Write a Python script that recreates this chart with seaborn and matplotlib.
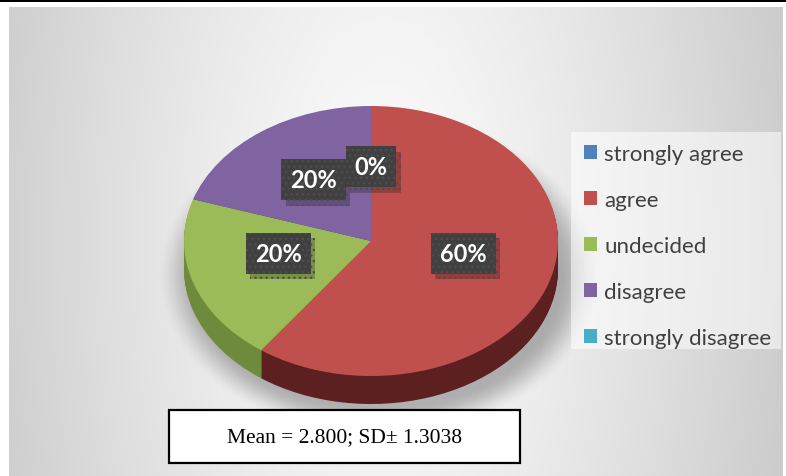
import numpy as np
import matplotlib
matplotlib.use("Agg")
import matplotlib.pyplot as plt
import seaborn as sns
from matplotlib.patches import Rectangle
from matplotlib import patheffects

# Survey responses (percent of respondents)
categories = ["strongly agree", "agree", "undecided", "disagree", "strongly disagree"]
shares = [0, 60, 20, 20, 0]
top_colors = ["#4F81BD", "#C0504D", "#9BBB59", "#8064A2", "#4BACC6"]
side_colors = ["#2c4a6e", "#5c2020", "#6e8a3b", "#4f3a6a", "#2a6e80"]
summary_text = "Mean = 2.800; SD\u00b1 1.3038"

sns.set_theme(style="white")
plt.rcParams["font.family"] = ["Lato", "DejaVu Sans"]

W, H = 786, 477
fig = plt.figure(figsize=(W / 100, H / 100), dpi=100)
fig.patch.set_facecolor("white")

# ---- background layer in pixel coordinates ----
ax_bg = fig.add_axes([0, 0, 1, 1])
ax_bg.axis("off")

x0, x1, y0, y1 = 9, 783, 8, 477
xx, yy = np.meshgrid(np.arange(x0, x1) + 0.5, np.arange(y0, y1) + 0.5)
r = np.sqrt(((xx - 385) / 385) ** 2 + ((yy - 240) / 800) ** 2)
v = np.clip(0.985 - 0.17 * r ** 1.3, 0, 1)
ax_bg.imshow(np.dstack([v, v, v]), extent=(x0, x1, y1, y0),
             interpolation="bilinear", aspect="auto", zorder=0)

# pie geometry (pixels)
cx, cy, rx, ry = 371, 242, 187, 135
depth = 28

# soft drop shadow under the pie
sx, sy = cx + 8, cy + depth + 6
rr = np.sqrt(((xx - sx) / (rx + 12)) ** 2 + ((yy - sy) / (ry + 12)) ** 2)
a = np.clip((1.12 - rr) / 0.22, 0, 1)
a = a * a * (3 - 2 * a) * 0.28
shadow = np.zeros(xx.shape + (4,))
shadow[..., 3] = a
ax_bg.imshow(shadow, extent=(x0, x1, y1, y0), interpolation="bilinear",
             aspect="auto", zorder=1)

ax_bg.add_patch(Rectangle((0, 0), W, 3.3, facecolor="black", lw=0, zorder=2))
ax_bg.add_patch(Rectangle((571, 133), 210, 217, facecolor="white", alpha=0.55,
                          lw=0, zorder=2))
ax_bg.set_xlim(0, W)
ax_bg.set_ylim(H, 0)

# ---- pie layer: data units scaled to an ellipse ----
ax = fig.add_axes([0, 0, 1, 1])
ax.patch.set_alpha(0)

for k in range(depth, 0, -1):
    ax.pie(shares, colors=side_colors, startangle=90, counterclock=False,
           center=(0, -k / ry), radius=1, wedgeprops=dict(linewidth=0))

wedges, texts, autotexts = ax.pie(
    shares, colors=top_colors, startangle=90, counterclock=False, radius=1,
    autopct=lambda p: f"{p:.0f}%", pctdistance=0.52,
    wedgeprops=dict(linewidth=0),
    textprops=dict(color="white", fontsize=17, fontweight="bold"))

box_style = "square,pad=0.38"
seen = set()
for t in autotexts:
    lx, ly = t.get_position()
    # tilt: the near half of the disc is foreshortened less than the far half
    ly = ly + 0.06 * (1 - ly)
    t.set_position((lx, ly))
    t.set_bbox(dict(boxstyle=box_style, facecolor="#404040",
                    edgecolor="#4e4e4e", linewidth=0, hatch="..."))
    t.set_zorder(5)
    pos = (round(lx, 4), round(ly, 4))
    if pos not in seen:
        seen.add(pos)
        t.get_bbox_patch().set_path_effects([
            patheffects.SimplePatchShadow(offset=(3, -4), shadow_rgbFace="black",
                                          alpha=0.22),
            patheffects.Normal()])

ax.set_aspect("auto")
ax.set_xlim(-cx / rx, (W - cx) / rx)
ax.set_ylim((cy - H) / ry, cy / ry)
ax.axis("off")

leg = ax.legend(wedges, categories, loc="upper left",
                bbox_to_anchor=(584 / W, 1 - 145 / H),
                bbox_transform=fig.transFigure, frameon=False, fontsize=16,
                handlelength=0.6, handleheight=0.6, handletextpad=0.3,
                labelspacing=1.17, borderpad=0, borderaxespad=0)
for t in leg.get_texts():
    t.set_color("#404040")

# ---- summary box ----
ax_top = fig.add_axes([0, 0, 1, 1])
ax_top.patch.set_alpha(0)
ax_top.axis("off")
ax_top.set_xlim(0, W)
ax_top.set_ylim(H, 0)
ax_top.add_patch(Rectangle((169, 411), 351, 53, facecolor="white",
                           edgecolor="black", linewidth=1.6))
ax_top.text(344.5, 438, summary_text, ha="center", va="center",
            fontsize=15.5, family=["Liberation Serif", "DejaVu Serif"],
            color="black")

fig.savefig("out.png", dpi=100)
